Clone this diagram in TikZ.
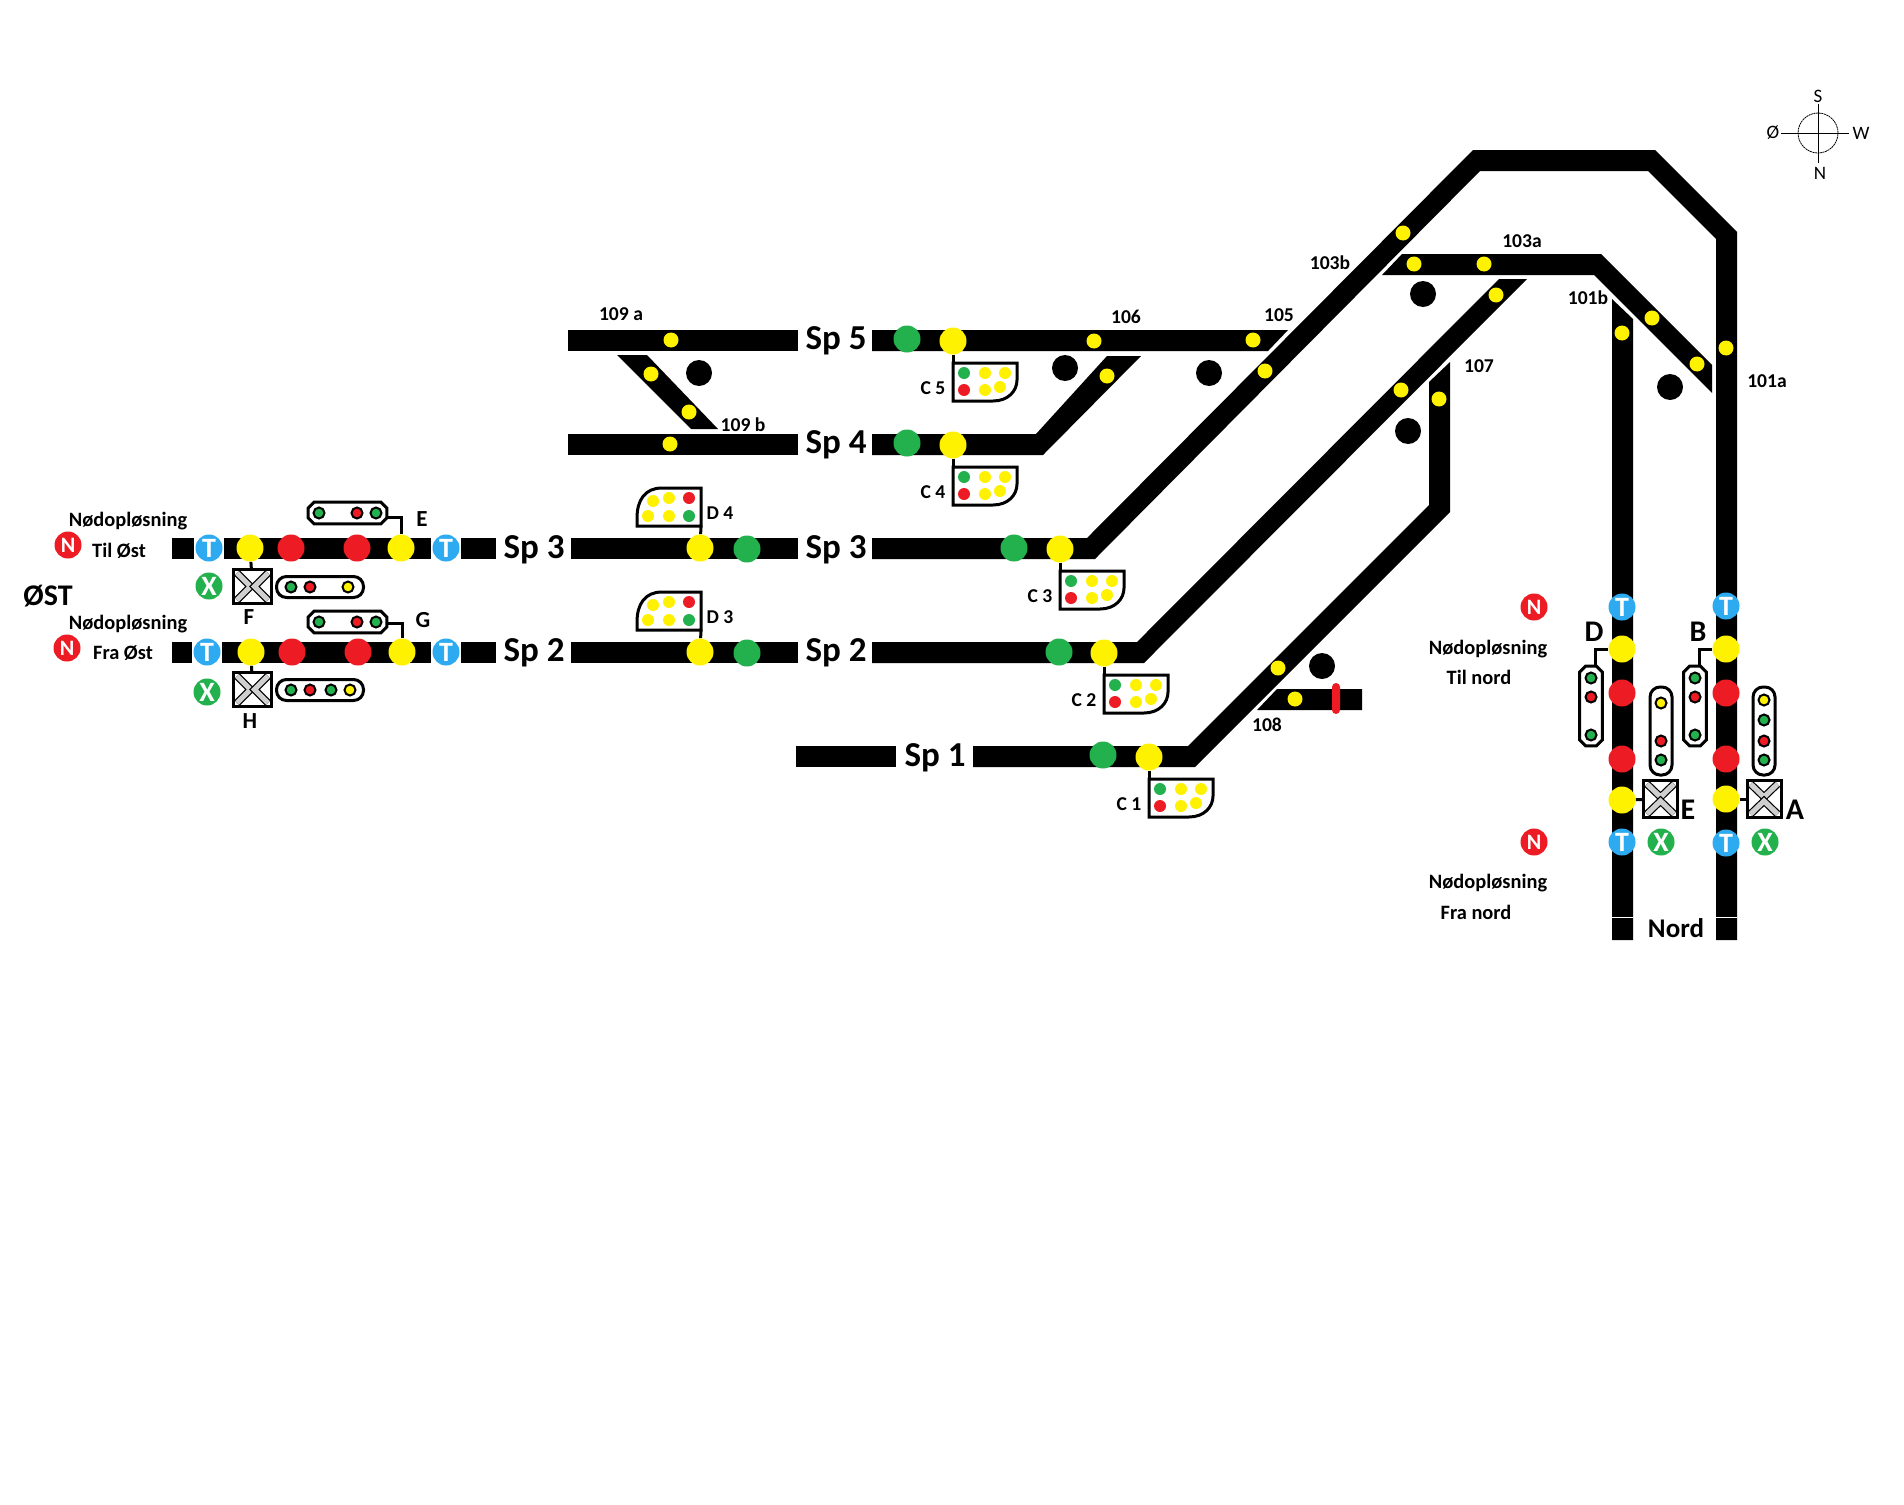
\documentclass[tikz,border=0pt]{standalone}
\usepackage{fontspec}
\usepackage{xcolor}
\setmainfont{Carlito}
\usetikzlibrary{positioning}
\definecolor{SigRed}{HTML}{ED1C24}
\definecolor{SigGreen}{HTML}{22B14C}
\definecolor{SigYellow}{HTML}{FFF200}
\definecolor{BtnBlue}{HTML}{2DAAF0}
\definecolor{SwitchGray}{HTML}{CFCFCF}
\tikzset{
  track/.style={fill=black},
  biglamp/.style={circle, inner sep=0pt, minimum size=13.5pt},
  dotlamp/.style={circle, fill=SigYellow, inner sep=0pt, minimum size=7.5pt},
  hole/.style={circle, fill=black, inner sep=0pt, minimum size=13pt},
  btn/.style={circle, inner sep=0pt, minimum size=13.5pt, text=white, font=\bfseries\fontsize{14}{14}\selectfont},
  pilllamp/.style={circle, draw=black, line width=1pt, inner sep=0pt, minimum size=5.5pt},
  panellamp/.style={circle, inner sep=0pt, minimum size=6pt},
  pill/.style={draw=black, line width=1.5pt, fill=white, rounded corners=5pt, inner sep=0pt},
  barspot/.style={inner sep=0pt},
  chamfer/.style={draw=black, line width=1.5pt, fill=white},
  swbox/.style={draw=black, line width=1.5pt, fill=white, inner sep=0pt},
  chevron/.style={double=SwitchGray, double distance=2.6pt, line width=0.6pt, line join=miter},
  stem/.style={draw=black, line width=1.5pt},
  panelframe/.style={draw=black, line width=1.5pt, fill=white},
  small/.style={font=\bfseries\fontsize{9.8}{9.8}\selectfont, inner sep=0pt},
  trackname/.style={font=\bfseries\fontsize{17.5}{17.5}\selectfont, inner sep=0pt},
  letter/.style={font=\bfseries\fontsize{11.5}{11.5}\selectfont, inner sep=0pt},
  bigletter/.style={font=\fontsize{15}{15}\selectfont\bfseries, inner sep=0pt},
  compass/.style={font=\fontsize{9.5}{9.5}\selectfont, inner sep=0pt}
}
\begin{document}
\begin{tikzpicture}[x=0.5pt, y=-0.5pt]
    \useasboundingbox (0,0) rectangle (1904,1504);

    % Tracks, east end
    \fill[track] (172,538) rectangle (194,559);
    \fill[track] (224,538) rectangle (431,559);
    \fill[track] (461,538) rectangle (496,559);
    \fill[track] (172,642) rectangle (192,663);
    \fill[track] (222,642) rectangle (431,663);
    \fill[track] (461,642) rectangle (496,663);

    % Tracks, middle
    \fill[track] (568,330) rectangle (798,351);
    \fill[track] (568,434) rectangle (798,455);
    \fill[track] (571,538) rectangle (798,559);
    \fill[track] (571,642) rectangle (798,663);
    \fill[track] (796,746) rectangle (896,767);
    \fill[track] (617,355) -- (647,355) -- (718,429) -- (691,429) -- cycle;

    % Tracks, up to the north end
    \fill[track] (872,330) -- (1288,330) -- (1268,351) -- (872,351) -- cycle;
    \fill[track] (872,434) -- (1036,434) -- (1107,356) -- (1141,356) -- (1043,455) -- (872,455) -- cycle;
    \fill[track] (872,538) -- (1087,538) -- (1473,150) -- (1655,150) -- (1737,232) -- (1737,940)
        -- (1716,940) -- (1716,239) -- (1648,171) -- (1480,171) -- (1095,559) -- (872,559) -- cycle;
    \fill[track] (872,642) -- (1137,642) -- (1499,279) -- (1527,279) -- (1144,663) -- (872,663) -- cycle;
    \fill[track] (973,746) -- (1188,746) -- (1429,505) -- (1429,382) -- (1450,362) -- (1450,512)
        -- (1195,767) -- (973,767) -- cycle;
    \fill[track] (1382,275) -- (1402,254) -- (1601,254) -- (1712,365) -- (1712,393) -- (1594,275) -- cycle;
    \fill[track] (1612,299) -- (1633,319) -- (1633,940) -- (1612,940) -- cycle;
    \fill[track] (1257,710) -- (1277,689) -- (1362,689) -- (1362,710) -- cycle;
    \fill[SigRed, rounded corners=2pt] (1332,683) rectangle (1340,714);
    \draw[white, line width=0.5pt] (1612,917) -- (1633,917);
    \draw[white, line width=0.5pt] (1716,917) -- (1737,917);

    % Occupied marks
    \foreach \n/\x/\y in {h1/699/373, h2/1065/368, h3/1209/373, h4/1423/294, h5/1670/387, h6/1408/431, h7/1322/666}
        \node[hole] (\n) at (\x,\y) {};

    % Small yellow lamps
    \foreach \n/\x/\y in {d1/671/340, d2/670/444, d3/651/374, d4/689/412, d5/1094/341, d6/1253/340,
                          d7/1265/371, d8/1107/376, d9/1278/668, d10/1295/699, d11/1403/233, d12/1414/264,
                          d13/1484/264, d14/1496/295, d15/1652/318, d16/1622/333, d17/1726/348, d18/1697/364,
                          d19/1401/390, d20/1439/399}
        \node[dotlamp] (\n) at (\x,\y) {};

    % Main lamps
    \foreach \n/\x/\y in {yE/401/548, yF/250/548, yG/402/652, yH/251/652, yD4/700/548, yD3/700/652,
                          yC5/953/341, yC4/953/445, yC3/1060/549, yC2/1104/653, yC1/1149/757,
                          yD/1622/649, yB/1726/649, yNE/1622/800, yA/1726/799}
        \node[biglamp, fill=SigYellow] (\n) at (\x,\y) {};
    \foreach \n/\x/\y in {g1/747/549, g2/747/653, g3/907/339, g4/907/443, g5/1014/548, g6/1059/652, g7/1103/755}
        \node[biglamp, fill=SigGreen] (\n) at (\x,\y) {};
    \foreach \n/\x/\y in {r1/291/548, r2/357/548, r3/292/652, r4/358/652, r5/1622/693, r6/1726/693, r7/1622/759, r8/1726/759}
        \node[biglamp, fill=SigRed] (\n) at (\x,\y) {};

    % Buttons
    \foreach \n/\x/\y in {t1/209/548, t2/446/548, t3/207/652, t4/446/652, t5/1622/607, t6/1726/606, t7/1622/842, t8/1726/843}
        \node[btn, fill=BtnBlue] (\n) at (\x,\y) {T};
    \foreach \n/\x/\y in {n1/68/545, n2/67/648, n3/1534/607, n4/1534/842}
        \node[btn, fill=SigRed, font=\bfseries\fontsize{11}{11}\selectfont] (\n) at (\x,\y) {N};
    \foreach \n/\x/\y in {x1/209/586, x2/207/692, x3/1661/842, x4/1765/842}
        \node[btn, fill=SigGreen] (\n) at (\x,\y) {X};

    % Switch boxes
    \node[swbox, minimum width=19pt, minimum height=17pt] (swF) at (252.5,586.5) {};
    \node[swbox, minimum width=19pt, minimum height=17pt] (swH) at (252.5,689.5) {};
    \node[swbox, minimum width=17pt, minimum height=18.5pt] (swNE) at (1660.5,799) {};
    \node[swbox, minimum width=17pt, minimum height=18.5pt] (swA) at (1764,799) {};
    \foreach \n in {swF, swH} {
        \draw[chevron] ([xshift=2.5pt,yshift=-2.5pt]\n.north west) -- ([xshift=-1pt]\n.center) -- ([xshift=2.5pt,yshift=2.5pt]\n.south west);
        \draw[chevron] ([xshift=-2.5pt,yshift=-2.5pt]\n.north east) -- ([xshift=1pt]\n.center) -- ([xshift=-2.5pt,yshift=2.5pt]\n.south east);
    }
    \foreach \n in {swNE, swA} {
        \draw[chevron] ([xshift=2.5pt,yshift=-2.5pt]\n.north west) -- ([yshift=1pt]\n.center) -- ([xshift=-2.5pt,yshift=-2.5pt]\n.north east);
        \draw[chevron] ([xshift=2.5pt,yshift=2.5pt]\n.south west) -- ([yshift=-1pt]\n.center) -- ([xshift=-2.5pt,yshift=2.5pt]\n.south east);
    }

    % Lamp bars
    \node[barspot, minimum width=39pt, minimum height=10.5pt] (pE) at (347.5,513) {};
    \node[barspot, minimum width=39pt, minimum height=10.5pt] (pG) at (347.5,622) {};
    \node[pill, minimum width=43.5pt, minimum height=10.5pt] (pF) at (320,587) {};
    \node[pill, minimum width=43.5pt, minimum height=10.5pt] (pH) at (320,690) {};
    \node[barspot, minimum width=11pt, minimum height=39.5pt] (pD) at (1591,706) {};
    \node[barspot, minimum width=11pt, minimum height=39.5pt] (pB) at (1695,706) {};
    \node[pill, minimum width=11pt, minimum height=44pt] (pNE) at (1661,731) {};
    \node[pill, minimum width=11pt, minimum height=44pt] (pA) at (1764,731) {};
    \foreach \n in {pE, pG, pD, pB}
        \draw[chamfer] ([xshift=3pt]\n.north west) -- ([xshift=-3pt]\n.north east) -- ([yshift=-3pt]\n.north east)
            -- ([yshift=3pt]\n.south east) -- ([xshift=-3pt]\n.south east) -- ([xshift=3pt]\n.south west)
            -- ([yshift=3pt]\n.south west) -- ([yshift=-3pt]\n.north west) -- cycle;

    \foreach \n/\x/\y/\c in {e1/319/513/SigGreen, e2/357/513/SigRed, e3/376/513/SigGreen,
                             g1/319/622/SigGreen, g2/357/622/SigRed, g3/376/622/SigGreen,
                             f1/291/587/SigGreen, f2/310/587/SigRed, f3/348/587/SigYellow,
                             k1/291/690/SigGreen, k2/310/690/SigRed, k3/331/690/SigGreen, k4/350/690/SigYellow,
                             m1/1591/678/SigGreen, m2/1591/697/SigRed, m3/1591/735/SigGreen,
                             b1/1695/678/SigGreen, b2/1695/697/SigRed, b3/1695/735/SigGreen,
                             q1/1661/703/SigYellow, q2/1661/741/SigRed, q3/1661/760/SigGreen,
                             a1/1764/700/SigYellow, a2/1764/720/SigGreen, a3/1764/741/SigRed, a4/1764/760/SigGreen}
        \node[pilllamp, fill=\c] (l\n) at (\x,\y) {};

    % Lamp bars to their signals
    \draw[stem] ([yshift=-2pt]pE.east) -| (yE);
    \draw[stem] ([yshift=-0.5pt]pG.east) -| (yG);
    \draw[stem] (yD) -| ([xshift=2pt]pD.north);
    \draw[stem] (yB) -| ([xshift=2pt]pB.north);
    \draw[stem] (yF) -- (swF);
    \draw[stem] (yH) -- (swH);
    \draw[stem] (yNE) -- (swNE);
    \draw[stem] (yA) -- (swA);

    % Route panels
    \foreach \n/\x/\y/\t in {C5/953/341/C 5, C4/953/445/C 4, C3/1060/549/C 3, C2/1104/653/C 2, C1/1149/757/C 1} {
        \begin{scope}[shift={(\x,\y)}]
            \draw[panelframe] (0,22) -- (64,22) -- (64,39) .. controls (64,50) and (55,60) .. (40,60) -- (0,60) -- cycle;
            \coordinate (c\n) at (0,22);
            \node[panellamp, fill=SigGreen] (c\n a) at (11,32) {};
            \node[panellamp, fill=SigYellow] (c\n b) at (32,32) {};
            \node[panellamp, fill=SigYellow] (c\n c) at (52,32) {};
            \node[panellamp, fill=SigRed] (c\n d) at (11,49) {};
            \node[panellamp, fill=SigYellow] (c\n e) at (32,49) {};
            \node[panellamp, fill=SigYellow] (c\n f) at (47,46) {};
            \node[small] (t\n) at (-20,47) {\t};
        \end{scope}
        \draw[stem] (y\n) -- (c\n);
    }
    \foreach \n/\x/\y/\t in {D4/700/548/D 4, D3/700/652/D 3} {
        \begin{scope}[shift={(\x,\y)}]
            \draw[panelframe] (1,-60) -- (-38,-60) .. controls (-55,-60) and (-63,-48) .. (-63,-30) -- (-63,-22) -- (1,-22) -- cycle;
            \coordinate (c\n) at (1,-22);
            \node[panellamp, fill=SigYellow] (c\n a) at (-47,-47) {};
            \node[panellamp, fill=SigYellow] (c\n b) at (-31,-50) {};
            \node[panellamp, fill=SigRed] (c\n c) at (-11,-50) {};
            \node[panellamp, fill=SigYellow] (c\n d) at (-52,-32) {};
            \node[panellamp, fill=SigYellow] (c\n e) at (-31,-32) {};
            \node[panellamp, fill=SigGreen] (c\n f) at (-11,-32) {};
            \node[small] (t\n) at (20,-35) {\t};
        \end{scope}
        \draw[stem] (y\n) -- (c\n);
    }

    % Track names
    \foreach \n/\x/\y/\t in {s5/836/341/Sp 5, s4/836/445/Sp 4, s3a/534/550/Sp 3, s3b/836/550/Sp 3,
                             s2a/534/653/Sp 2, s2b/836/653/Sp 2, s1/935/758/Sp 1}
        \node[trackname] (\n) at (\x,\y) {\t};

    % Section names
    \foreach \n/\x/\y/\t in {w1/621/314/109 a, w2/743/425/109 b, w3/1126/317/106, w4/1279/315/105, w5/1330/263/103b,
                             w6/1522/241/103a, w7/1588/298/101b, w8/1479/366/107, w9/1767/381/101a, w10/1267/725/108}
        \node[small] (\n) at (\x,\y) {\t};

    % Signal letters
    \foreach \n/\x/\y/\t in {lE/422/519/E, lF/249/617/F, lG/423/620/G, lH/250/721/H}
        \node[letter] (\n) at (\x,\y) {\t};
    \foreach \n/\x/\y/\t in {lD/1594/632/D, lB/1698/632/B, lNE/1688/810/E, lA/1795/810/A}
        \node[letter, font=\bfseries\fontsize{15}{15}\selectfont] (\n) at (\x,\y) {\t};
    \node[bigletter] (ost) at (48,596) {ØST};
    \node[letter, font=\bfseries\fontsize{13.5}{13.5}\selectfont] (nord) at (1676,928) {Nord};

    % Emergency release labels
    \foreach \n/\x/\y/\t in {e1/128/521/Nødopløsning, e2/119/551/Til Øst, e3/128/624/Nødopløsning, e4/123/653/Fra Øst,
                             e5/1488/649/Nødopløsning, e6/1479/677/Til nord, e7/1488/883/Nødopløsning, e8/1476/912/Fra nord}
        \node[small, font=\bfseries\fontsize{10.2}{10.2}\selectfont] (\n) at (\x,\y) {\t};

    % Compass
    \node[circle, draw=black, line width=0.4pt, dash pattern=on 1pt off 0.3pt, inner sep=0pt, minimum size=20pt] (rose) at (1818,133) {};
    \node[compass] (cs) at (1818,96) {S};
    \node[compass] (cn) at (1820,173) {N};
    \node[compass] (co) at (1773,133) {Ø};
    \node[compass] (cw) at (1861,133) {W};
    \draw[line width=0.5pt] (1781,133) -- (1849,133);
    \draw[line width=0.5pt] (1818,104) -- (1818,163);
\end{tikzpicture}
\end{document}
